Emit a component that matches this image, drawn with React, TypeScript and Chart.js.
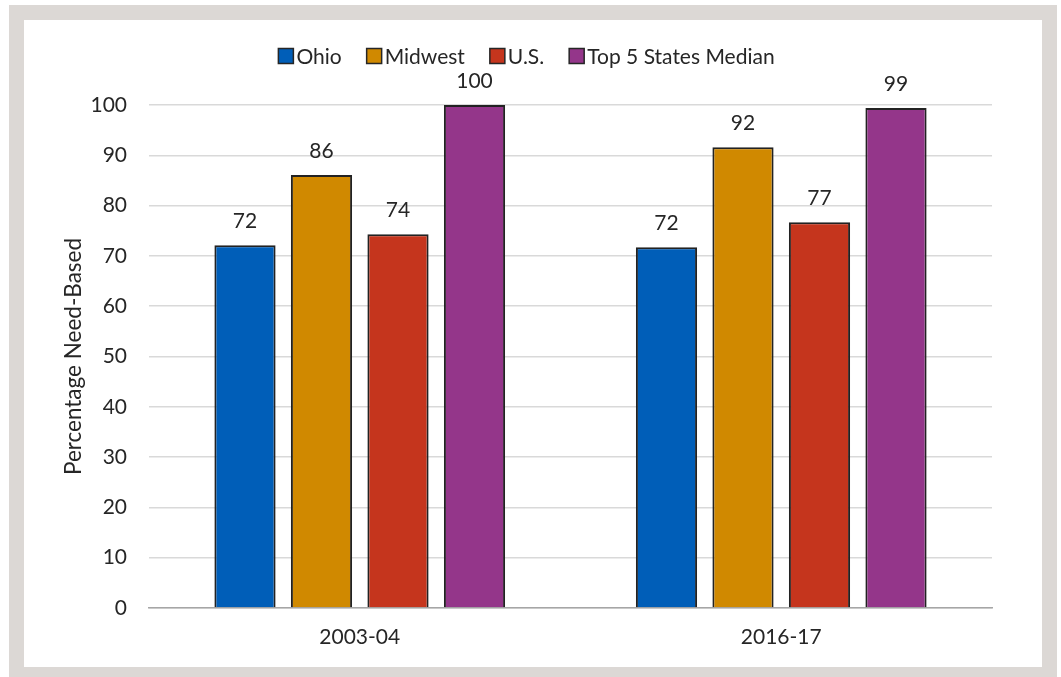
import React, { useEffect, useRef } from "react";
import { Chart, registerables } from "chart.js";

Chart.register(...registerables);

const categories = ["2003-04", "2016-17"];
const seriesNames = ["Ohio", "Midwest", "U.S.", "Top 5 States Median"];
const ohio = [72.1, 71.7];
const midwest = [86.1, 91.6];
const us = [74.3, 76.7];
const top5 = [100, 99.4];
const colors = ["#005EB8", "#D08900", "#C5351D", "#94368A"];
const yTicks = [0, 10, 20, 30, 40, 50, 60, 70, 80, 90, 100];

const FONT = "Lato";
const TEXT = "#262626";

const framePlugin = {
  id: "frame",
  beforeDraw(chart: any) {
    const { ctx, width, height } = chart;
    ctx.save();
    ctx.fillStyle = "#ffffff";
    ctx.fillRect(0, 0, width, height);
    ctx.fillStyle = "#DCD8D5";
    ctx.fillRect(9, 5, width - 13, height - 5);
    ctx.fillStyle = "#ffffff";
    ctx.fillRect(24, 20, width - 43, height - 30);
    ctx.restore();
  },
};

const legendPlugin = {
  id: "customLegend",
  afterDraw(chart: any) {
    const { ctx } = chart;
    ctx.save();
    ctx.font = `21px ${FONT}`;
    const box = 15;
    const gap = 3;
    const itemGap = 25;
    const widths = seriesNames.map((n) => ctx.measureText(n).width);
    const total =
      widths.reduce((a, b) => a + b, 0) + seriesNames.length * (box + gap) + itemGap * (seriesNames.length - 1);
    let x = chart.width / 2 - 4 - total / 2;
    const cy = 56;
    seriesNames.forEach((n, i) => {
      ctx.fillStyle = colors[i];
      ctx.fillRect(x, cy - box / 2, box, box);
      ctx.strokeStyle = "#262626";
      ctx.lineWidth = 1.5;
      ctx.strokeRect(x, cy - box / 2, box, box);
      ctx.fillStyle = TEXT;
      ctx.textBaseline = "middle";
      ctx.textAlign = "left";
      ctx.fillText(n, x + box + gap, cy + 1);
      x += box + gap + widths[i] + itemGap;
    });
    ctx.restore();
  },
};

const labelPlugin = {
  id: "barLabels",
  afterDatasetsDraw(chart: any) {
    const { ctx } = chart;
    ctx.save();
    ctx.font = `21px ${FONT}`;
    ctx.fillStyle = TEXT;
    ctx.textAlign = "center";
    ctx.textBaseline = "middle";
    chart.data.datasets.forEach((ds: any, di: number) => {
      const meta = chart.getDatasetMeta(di);
      meta.data.forEach((bar: any, i: number) => {
        ctx.fillText(String(Math.round(ds.data[i])), bar.x, bar.y - 24);
      });
    });
    ctx.restore();
  },
};

export default function App() {
  const ref = useRef<HTMLCanvasElement>(null);
  useEffect(() => {
    document.body.style.margin = "0";
    const seriesData = [ohio, midwest, us, top5];
    const chart = new Chart(ref.current!, {
      type: "bar",
      data: {
        labels: categories,
        datasets: seriesNames.map((name, i) => ({
          label: name,
          data: seriesData[i],
          backgroundColor: colors[i],
          borderColor: "#222222",
          borderWidth: 2,
          barPercentage: 0.8,
          categoryPercentage: 0.726,
          clip: false as any,
        })),
      },
      options: {
        animation: false,
        responsive: false,
        maintainAspectRatio: false,
        layout: { padding: { left: 0, top: 105, right: 69, bottom: 0 } },
        plugins: {
          legend: { display: false },
          tooltip: { enabled: false },
        },
        scales: {
          x: {
            grid: { display: false, drawTicks: false },
            border: { display: true, color: "#A6A6A6", width: 1.5 },
            ticks: { color: TEXT, font: { family: FONT, size: 21 }, padding: 17 },
            afterFit(scale: any) {
              scale.height = 69;
            },
          },
          y: {
            min: 0,
            max: 100,
            afterBuildTicks(scale: any) {
              scale.ticks = yTicks.map((v) => ({ value: v }));
            },
            grid: { color: "#D9D9D9", lineWidth: 1.5, drawTicks: false },
            border: { display: false },
            ticks: { color: TEXT, font: { family: FONT, size: 21 }, padding: 22 },
            title: {
              display: true,
              text: "Percentage Need-Based",
              color: TEXT,
              font: { family: FONT, size: 22.5 },
              padding: { top: 60, bottom: 0 },
            },
            afterFit(scale: any) {
              scale.width = 149;
            },
          },
        },
      },
      plugins: [framePlugin, legendPlugin, labelPlugin],
    });
    return () => chart.destroy();
  }, []);
  return <canvas ref={ref} width={1061} height={677} style={{ display: "block" }} />;
}
